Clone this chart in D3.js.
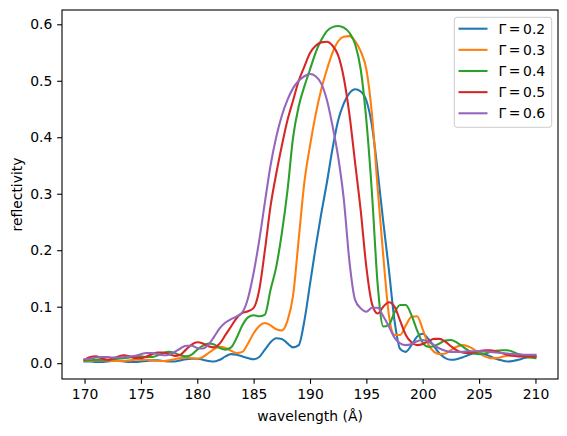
<!DOCTYPE html>
<html>
<head>
<meta charset="utf-8">
<script src="https://cdn.jsdelivr.net/npm/d3@7/dist/d3.min.js"></script>
<style>
  body { margin: 0; background: #fff; }
  svg { display: block; font-family: "DejaVu Sans", sans-serif; }
</style>
</head>
<body>
<div id="chart"></div>
<script>
// wavelength grid (angstrom)
var wavelength = [
  170, 170.5, 171, 171.5, 172, 172.5, 173, 173.5, 174, 174.5,
  175, 175.5, 176, 176.5, 177, 177.5, 178, 178.5, 179, 179.5,
  180, 180.5, 181, 181.5, 182, 182.5, 183, 183.5, 184, 184.5,
  185, 185.5, 186, 186.5, 187, 187.5, 188, 188.5, 189, 189.5,
  190, 190.5, 191, 191.5, 192, 192.5, 193, 193.5, 194, 194.5,
  195, 195.5, 196, 196.5, 197, 197.5, 198, 198.5, 199, 199.5,
  200, 200.5, 201, 201.5, 202, 202.5, 203, 203.5, 204, 204.5,
  205, 205.5, 206, 206.5, 207, 207.5, 208, 208.5, 209, 209.5,
  210
];

var gammas = ["0.2", "0.3", "0.4", "0.5", "0.6"];
var colors = ["#1f77b4", "#ff7f0e", "#2ca02c", "#d62728", "#9467bd"];

var refl02 = [
  .003, .003, .002, .002, .003, .004, .004, .003, .002, .002,
  .003, .004, .005, .005, .004, .003, .003, .005, .007, .008,
  .008, .006, .004, .003, .006, .012, .016, .015, .012, .009,
  .007, .011, .024, .037, .044, .043, .035, .028, .032, .075,
  .14, .205, .265, .32, .38, .43, .46, .478, .485, .481,
  .465, .42, .34, .25, .165, .075, .025, .02, .032, .047,
  .052, .043, .03, .017, .009, .006, .007, .01, .014, .017,
  .018, .016, .012, .008, .005, .003, .004, .006, .009, .011,
  .012
];
var refl03 = [
  .004, .004, .005, .005, .005, .004, .004, .004, .005, .006,
  .006, .006, .005, .004, .004, .005, .007, .009, .010, .009,
  .008, .011, .018, .025, .029, .027, .022, .018, .02, .035,
  .053, .066, .071, .067, .06, .058, .075, .12, .22, .32,
  .385, .44, .485, .52, .55, .57, .578, .579, .57, .552,
  .52, .44, .31, .19, .085, .05, .05, .067, .082, .083,
  .06, .033, .02, .016, .017, .023, .029, .032, .03, .025,
  .018, .012, .009, .009, .011, .013, .014, .014, .013, .013,
  .012
];
var refl04 = [
  .005, .005, .006, .006, .006, .007, .008, .009, .01, .012,
  .012, .011, .011, .014, .018, .02, .018, .014, .012, .015,
  .024, .031, .035, .033, .027, .024, .028, .045, .067, .081,
  .085, .083, .086, .13, .17, .23, .305, .40, .455, .49,
  .52, .55, .572, .588, .595, .597, .594, .585, .565, .52,
  .43, .30, .14, .065, .068, .09, .103, .103, .085, .058,
  .036, .029, .03, .035, .04, .041, .037, .03, .023, .018,
  .016, .017, .02, .022, .023, .023, .02, .016, .012, .01,
  .009
];
var refl05 = [
  .006, .011, .012, .009, .006, .008, .012, .014, .012, .009,
  .009, .012, .016, .019, .019, .016, .013, .015, .024, .033,
  .037, .035, .03, .028, .035, .05, .065, .08, .089, .092,
  .098, .13, .20, .278, .335, .385, .43, .465, .50, .525,
  .549, .562, .568, .569, .562, .545, .505, .44, .355, .27,
  .17, .105, .088, .1, .108, .1, .075, .05, .037, .032,
  .034, .039, .043, .043, .038, .03, .023, .019, .018, .019,
  .021, .023, .023, .021, .018, .015, .013, .012, .012, .012,
  .012
];
var refl06 = [
  .007, .008, .01, .011, .011, .01, .01, .011, .012, .013,
  .016, .018, .018, .016, .014, .015, .02, .026, .031, .031,
  .027, .026, .033, .047, .062, .072, .078, .083, .09, .115,
  .16, .218, .285, .35, .40, .438, .466, .487, .50, .508,
  .512, .508, .495, .466, .42, .365, .29, .18, .112, .097,
  .091, .098, .098, .083, .065, .045, .035, .032, .034, .039,
  .041, .038, .032, .026, .022, .02, .02, .02, .021, .021,
  .021, .021, .02, .019, .018, .017, .016, .016, .015, .015,
  .015
];

var xTicks = [170, 175, 180, 185, 190, 195, 200, 205, 210];
var yTicks = [0, 0.1, 0.2, 0.3, 0.4, 0.5, 0.6];

var series = [refl02, refl03, refl04, refl05, refl06];

// layout
var width = 567, height = 436;
var margin = { top: 10, right: 9, bottom: 57, left: 62 };
var fs = 13.9;
var tick = 4.86;

var svg = d3.select('#chart').append('svg')
  .attr('width', width).attr('height', height);

var x = d3.scaleLinear().domain([168, 212]).range([margin.left, width - margin.right]);
var y = d3.scaleLinear().domain([-0.028, 0.6253]).range([height - margin.bottom, margin.top]);

// axes
var xAxis = svg.append('g')
  .attr('transform', 'translate(0,' + (height - margin.bottom) + ')')
  .call(d3.axisBottom(x).tickValues(xTicks).tickSize(tick).tickPadding(4.86).tickFormat(d3.format('d')));
var yAxis = svg.append('g')
  .attr('transform', 'translate(' + margin.left + ',0)')
  .call(d3.axisLeft(y).tickValues(yTicks).tickSize(tick).tickPadding(4.86).tickFormat(d3.format('.1f')));

[xAxis, yAxis].forEach(function (g) {
  g.select('.domain').remove();
  g.selectAll('line').attr('stroke', '#000').attr('stroke-width', 1.1);
  g.selectAll('text').attr('font-size', fs).attr('fill', '#000').attr('font-family', '"DejaVu Sans", sans-serif');
});

// lines
var line = d3.line()
  .x(function (d, i) { return x(wavelength[i]); })
  .y(function (d) { return y(d); })
  .curve(d3.curveMonotoneX);

series.forEach(function (s, k) {
  svg.append('path')
    .datum(s)
    .attr('fill', 'none')
    .attr('stroke', colors[k])
    .attr('stroke-width', 2.08)
    .attr('stroke-linejoin', 'round')
    .attr('stroke-linecap', 'square')
    .attr('d', line);
});

// frame
svg.append('rect')
  .attr('x', margin.left).attr('y', margin.top)
  .attr('width', width - margin.left - margin.right)
  .attr('height', height - margin.top - margin.bottom)
  .attr('fill', 'none').attr('stroke', '#000').attr('stroke-width', 1.1);

// axis labels
svg.append('text')
  .attr('x', (margin.left + width - margin.right) / 2)
  .attr('y', 421)
  .attr('text-anchor', 'middle')
  .attr('font-size', fs)
  .text('wavelength (Å)');

svg.append('text')
  .attr('transform', 'translate(17,' + ((margin.top + height - margin.bottom) / 2) + ') rotate(-90)')
  .attr('text-anchor', 'middle')
  .attr('dy', '0.35em')
  .attr('font-size', fs)
  .text('reflectivity');

// legend
var legend = svg.append('g');
legend.append('rect')
  .attr('x', 454.3).attr('y', 17.3)
  .attr('width', 97.4).attr('height', 110)
  .attr('rx', 2.8)
  .attr('fill', '#fff').attr('fill-opacity', 0.8)
  .attr('stroke', '#cccccc').attr('stroke-width', 1);

gammas.forEach(function (g, k) {
  var ry = 28.7 + k * 21.15;
  legend.append('line')
    .attr('x1', 458.5).attr('x2', 487.5)
    .attr('y1', ry).attr('y2', ry)
    .attr('stroke', colors[k]).attr('stroke-width', 2.08);
  legend.append('text')
    .attr('x', 498.5).attr('y', ry)
    .attr('dy', '0.36em')
    .attr('font-size', fs)
    .style('word-spacing', '-1.8px')
    .text('Γ = ' + g);
});
</script>
</body>
</html>
